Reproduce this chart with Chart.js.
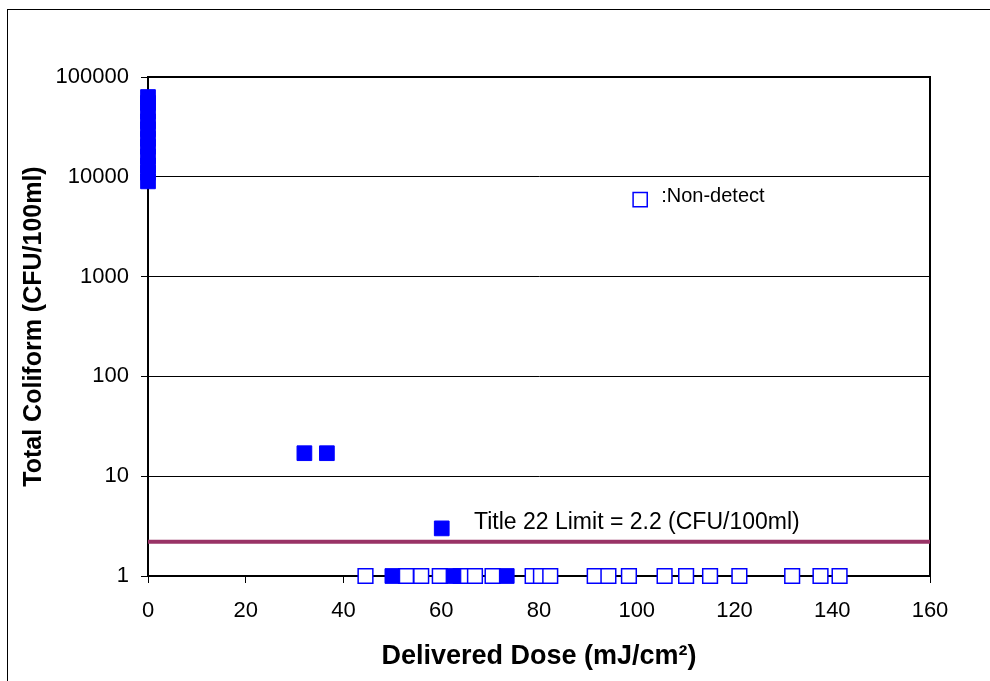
<!DOCTYPE html>
<html>
<head>
<meta charset="utf-8">
<script src="https://cdn.jsdelivr.net/npm/chart.js@4/dist/chart.umd.min.js"></script>
<style>
  html, body { margin: 0; padding: 0; background: #fff; }
  canvas { display: block; }
</style>
</head>
<body>
<canvas id="c" width="990" height="681"></canvas>
<script>
// ---- Data ----
// Detected samples (filled squares)
const detectedDose = [0, 0, 0, 0, 0, 0, 0, 0, 0, 0, 0, 32.0, 36.6, 60.1, 50.0, 62.5, 73.4];
const detectedColiform = [9000, 11000, 13000, 16000, 20000, 24000, 30000, 36000, 45000, 55000, 63000, 17, 17, 3, 1, 1, 1];
// Non-detect samples (open squares, plotted at 1)
const nonDetectDose = [44.5, 52.8, 55.9, 59.7, 64.0, 66.9, 70.5, 78.7, 80.4, 82.3, 91.4, 94.2, 98.4, 105.7, 110.1, 115.0, 121.0, 131.8, 137.6, 141.5];
const nonDetectColiform = nonDetectDose.map(() => 1);
// Title 22 limit
const limitValue = 2.2;
const limitRange = [0, 160];
// Legend key marker (data coordinates)
const legendKeyDose = [100.7];
const legendKeyColiform = [5900];
// Tick labels
const yTicks = [1, 10, 100, 1000, 10000, 100000];
const xTicks = [0, 20, 40, 60, 80, 100, 120, 140, 160];
// Text annotations
const limitLabel = 'Title 22 Limit = 2.2 (CFU/100ml)';
const limitLabelAt = [66.7, 3.40];
const legendLabel = ':Non-detect';
const legendLabelAt = [105.0, 6330];
const xTitle = 'Delivered Dose (mJ/cm\u00B2)';
const yTitle = 'Total Coliform (CFU/100ml)';

const FONT = '"Liberation Sans", Arial, Helvetica, sans-serif';
const BLUE = '#0000FF';

const pts = (xs, ys) => xs.map((x, i) => ({ x: x, y: ys[i] }));

const framePlugin = {
  id: 'frame',
  beforeDraw(chart) {
    const ctx = chart.ctx;
    ctx.save();
    ctx.fillStyle = '#fff';
    ctx.fillRect(0, 0, chart.width, chart.height);
    ctx.strokeStyle = '#000';
    ctx.lineWidth = 1;
    ctx.strokeRect(7.5, 9.5, 1100, 1000);
    ctx.restore();
  },
  beforeDatasetsDraw(chart) {
    const { ctx, chartArea: a } = chart;
    ctx.save();
    ctx.strokeStyle = '#000';
    ctx.lineWidth = 2;
    ctx.beginPath();
    ctx.moveTo(a.left, a.top);
    ctx.lineTo(a.right, a.top);
    ctx.lineTo(a.right, a.bottom);
    ctx.stroke();
    ctx.restore();
  },
  afterDatasetsDraw(chart) {
    const { ctx, scales: { x, y } } = chart;
    ctx.save();
    ctx.fillStyle = '#000';
    ctx.textAlign = 'left';
    ctx.textBaseline = 'middle';
    ctx.font = '23px ' + FONT;
    ctx.fillText(limitLabel, x.getPixelForValue(limitLabelAt[0]), y.getPixelForValue(limitLabelAt[1]));
    ctx.font = '20px ' + FONT;
    ctx.fillText(legendLabel, x.getPixelForValue(legendLabelAt[0]), y.getPixelForValue(legendLabelAt[1]));
    ctx.restore();
  }
};

new Chart(document.getElementById('c'), {
  type: 'scatter',
  data: {
    datasets: [
      {
        label: 'Detected',
        data: pts(detectedDose, detectedColiform),
        pointStyle: 'rect',
        pointRadius: 10.4,
        backgroundColor: BLUE,
        borderColor: BLUE,
        borderWidth: 1,
        clip: false
      },
      {
        label: 'Non-detect',
        data: pts(nonDetectDose, nonDetectColiform),
        pointStyle: 'rect',
        pointRadius: 10.4,
        backgroundColor: '#fff',
        borderColor: BLUE,
        borderWidth: 1.5,
        clip: false
      },
      {
        label: 'Legend key',
        data: pts(legendKeyDose, legendKeyColiform),
        pointStyle: 'rect',
        pointRadius: 10,
        backgroundColor: '#fff',
        borderColor: BLUE,
        borderWidth: 1.5,
        clip: false
      },
      {
        type: 'line',
        label: 'Title 22 Limit',
        data: limitRange.map(x => ({ x: x, y: limitValue })),
        borderColor: '#993366',
        borderWidth: 4,
        pointRadius: 0,
        fill: false
      }
    ]
  },
  options: {
    responsive: false,
    animation: false,
    devicePixelRatio: 1,
    layout: { padding: { left: 0, top: 77, right: 60, bottom: 0 } },
    plugins: { legend: { display: false }, tooltip: { enabled: false } },
    scales: {
      x: {
        type: 'linear',
        min: 0,
        max: 160,
        afterBuildTicks(scale) { scale.ticks = xTicks.map(v => ({ value: v })); },
        afterFit(scale) { scale.height = 105; },
        ticks: {
          color: '#000',
          font: { family: FONT, size: 22 },
          padding: 15,
          maxRotation: 0,
          callback: v => String(v)
        },
        grid: { drawOnChartArea: false, drawTicks: true, tickLength: 7, color: '#000', lineWidth: 1 },
        border: { display: true, color: '#000', width: 2 },
        title: {
          display: true,
          text: xTitle,
          color: '#000',
          font: { family: FONT, size: 27, weight: 'bold' },
          padding: { top: 0, bottom: 8 }
        }
      },
      y: {
        type: 'logarithmic',
        min: 1,
        max: 100000,
        afterBuildTicks(scale) { scale.ticks = yTicks.map(v => ({ value: v })); },
        afterFit(scale) { scale.width = 148; },
        ticks: {
          color: '#000',
          font: { family: FONT, size: 22 },
          padding: 12,
          callback: v => String(v)
        },
        grid: { drawOnChartArea: true, drawTicks: true, tickLength: 7, color: '#000', lineWidth: 1 },
        border: { display: true, color: '#000', width: 2 },
        title: {
          display: true,
          text: yTitle,
          color: '#000',
          font: { family: FONT, size: 25, weight: 'bold' },
          padding: { top: 19, bottom: 0 }
        }
      }
    }
  },
  plugins: [framePlugin]
});
</script>
</body>
</html>
